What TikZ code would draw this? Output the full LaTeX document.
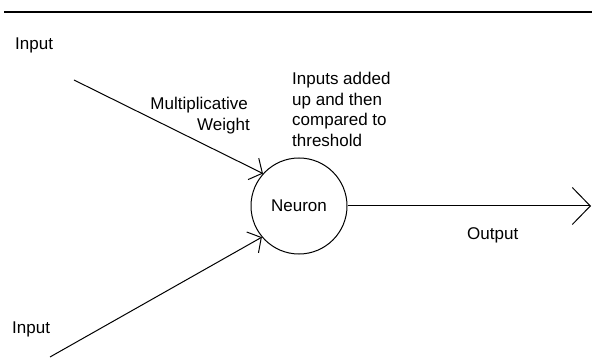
\documentclass[tikz,border=0pt]{standalone}
\usepackage{fontspec}
\setmainfont{Liberation Sans}
\usetikzlibrary{arrows.meta}
\begin{document}
\begin{tikzpicture}[x=1pt,y=-1pt,
  lbl/.style={inner sep=0pt,font=\fontsize{17}{20.5}\selectfont},
  neuronbox/.style={draw,circle,line width=1pt,minimum size=96pt,inner sep=0pt,font=\fontsize{17}{20.5}\selectfont},
  inarrow/.style={line width=1pt,-{Straight Barb[length=10pt,width=24pt,line width=1pt]}},
  outarrow/.style={line width=1pt,-{Straight Barb[length=18pt,width=37pt,line width=1pt]}}]
\useasboundingbox (0,0) rectangle (592,358);
% top rule
\coordinate (r1) at (4,12);
\coordinate (r2) at (592,12);
\draw[line width=1.5pt] (r1) -- (r2);
% neuron
\node[neuronbox] (neuron) at (299,206) {Neuron};
% labels
\node[lbl,anchor=base west] (in1) at (15,50) {Input};
\node[lbl,anchor=base west] (in2) at (12,333) {Input};
\node[lbl,anchor=base east] (mw1) at (248,110) {Multiplicative};
\node[lbl,anchor=base east] (mw2) at (250,131) {Weight};
\node[lbl,anchor=base west] (t1) at (292,85) {Inputs added};
\node[lbl,anchor=base west] (t2) at (292,106) {up and then};
\node[lbl,anchor=base west] (t3) at (292,126) {compared to};
\node[lbl,anchor=base west] (t4) at (292,147) {threshold};
\node[lbl,anchor=base west] (out) at (467,240) {Output};
% connectors
\coordinate (s1) at (74,80);
\coordinate (s2) at (50,357);
\coordinate (o) at (591,206);
\draw[inarrow] (s1) -- (neuron.138);
\draw[inarrow] (s2) -- (neuron.220);
\draw[outarrow] (neuron) -- (o);
\end{tikzpicture}
\end{document}
